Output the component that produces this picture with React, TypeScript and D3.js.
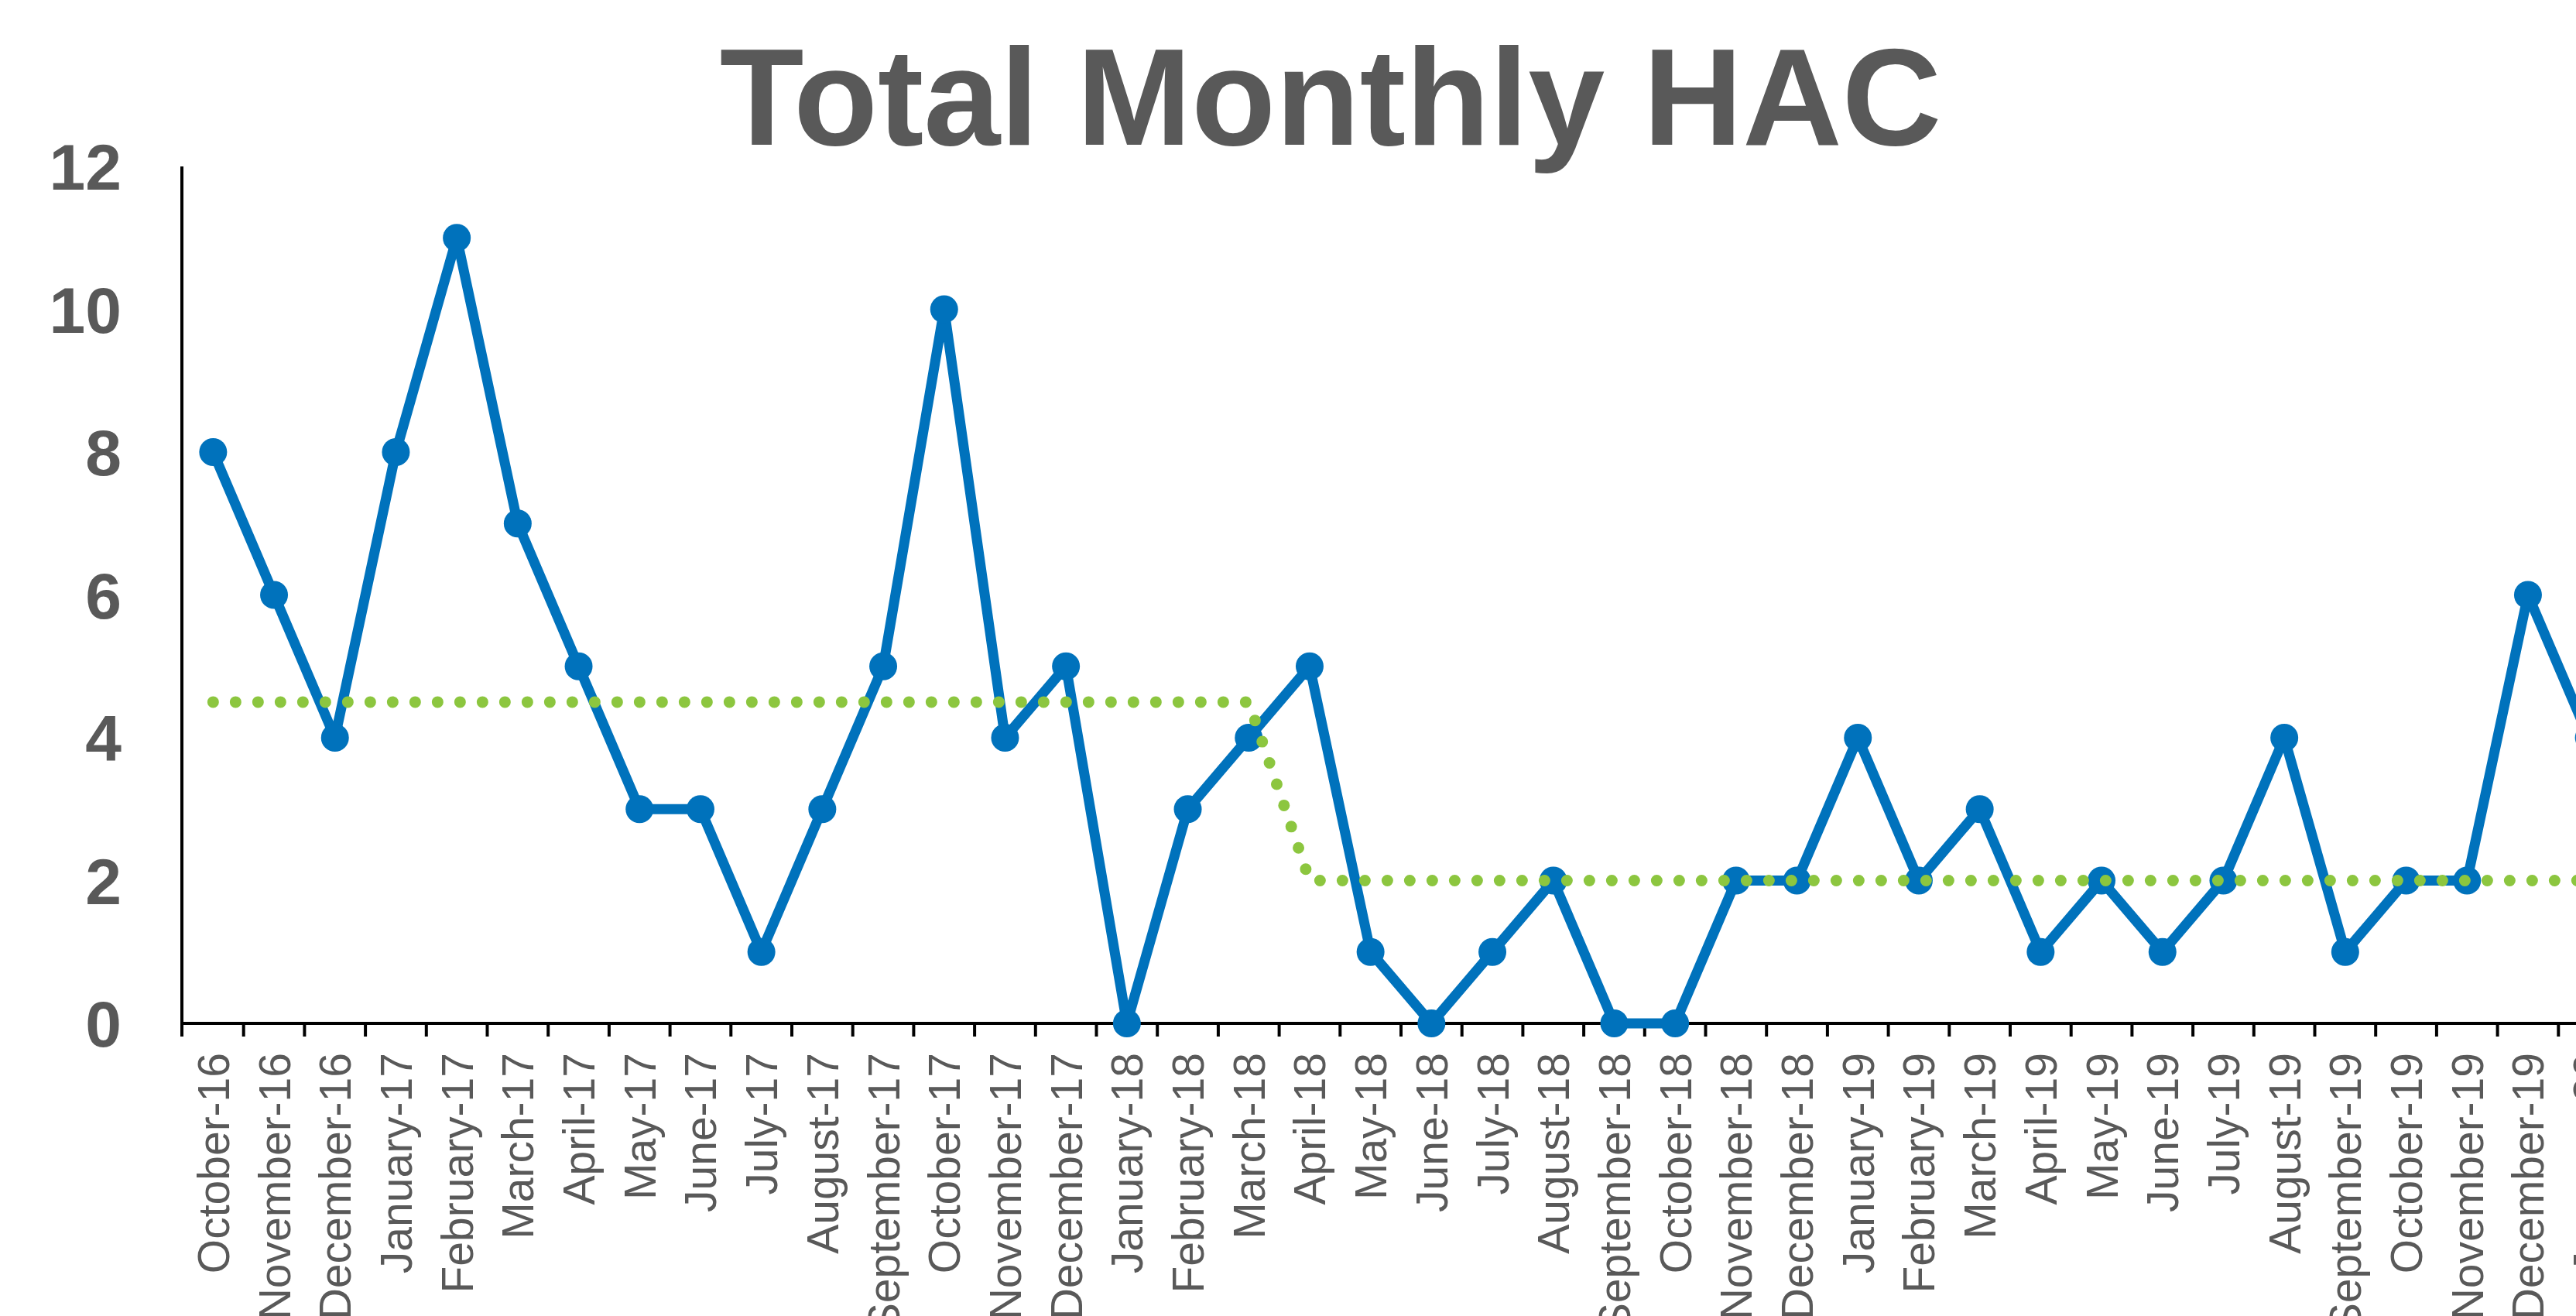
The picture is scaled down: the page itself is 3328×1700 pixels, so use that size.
import React, { useEffect, useRef } from 'react';
import * as d3 from 'd3';

const months = [
  'October-16', 'November-16', 'December-16', 'January-17', 'February-17', 'March-17',
  'April-17', 'May-17', 'June-17', 'July-17', 'August-17', 'September-17',
  'October-17', 'November-17', 'December-17', 'January-18', 'February-18', 'March-18',
  'April-18', 'May-18', 'June-18', 'July-18', 'August-18', 'September-18',
  'October-18', 'November-18', 'December-18', 'January-19', 'February-19', 'March-19',
  'April-19', 'May-19', 'June-19', 'July-19', 'August-19', 'September-19',
  'October-19', 'November-19', 'December-19', 'January-20',
];

const hacCounts = [
  8, 6, 4, 8, 11, 7,
  5, 3, 3, 1, 3, 5,
  10, 4, 5, 0, 3, 4,
  5, 1, 0, 1, 2, 0,
  0, 2, 2, 4, 2, 3,
  1, 2, 1, 2, 4, 1,
  2, 2, 6, 4,
];

// median line: 4.5 up to March-18, then 2
const medianValues = [
  4.5, 4.5, 4.5, 4.5, 4.5, 4.5,
  4.5, 4.5, 4.5, 4.5, 4.5, 4.5,
  4.5, 4.5, 4.5, 4.5, 4.5, 4.5,
  2, 2, 2, 2, 2, 2,
  2, 2, 2, 2, 2, 2,
  2, 2, 2, 2, 2, 2,
  2, 2, 2, 2,
];

const yTicks = [0, 2, 4, 6, 8, 10, 12];

export default function App() {
  const svgRef = useRef<SVGSVGElement>(null);

  const width = 3328;
  const height = 1700;
  const axisX = 235;
  const step = 78.7;
  const textColor = '#595959';
  const blue = '#0072BC';
  const green = '#8CC63F';

  useEffect(() => {
    if (!svgRef.current) return;
    const svg = d3.select(svgRef.current);
    svg.selectAll('*').remove();

    const x = d3.scaleBand<string>()
      .domain(months)
      .range([axisX + 1, axisX + 1 + months.length * step])
      .padding(0);

    const y = d3.scaleLinear()
      .domain([0, 12])
      .range([1322, 215]);

    const cx = (i: number) => (x(months[i]) as number) + x.bandwidth() / 2;

    // Title
    svg.append('text')
      .attr('x', 1719)
      .attr('y', 187)
      .attr('text-anchor', 'middle')
      .attr('font-family', '"Liberation Sans", Arial, sans-serif')
      .attr('font-weight', 'bold')
      .attr('font-size', 178)
      .attr('fill', textColor)
      .text('Total Monthly HAC');

    // Y tick labels (no tick marks)
    svg.append('g')
      .selectAll('text')
      .data(yTicks)
      .enter()
      .append('text')
      .attr('x', 157)
      .attr('y', d => y(d))
      .attr('dy', '0.36em')
      .attr('text-anchor', 'end')
      .attr('font-family', '"Liberation Sans", Arial, sans-serif')
      .attr('font-weight', 'bold')
      .attr('font-size', 84)
      .attr('fill', textColor)
      .text(d => d);

    // X tick labels, rotated
    svg.append('g')
      .selectAll('text')
      .data(months)
      .enter()
      .append('text')
      .attr('transform', (d, i) => `translate(${cx(i)}, 1360) rotate(-90)`)
      .attr('dy', '0.36em')
      .attr('text-anchor', 'end')
      .attr('font-family', '"Liberation Sans", Arial, sans-serif')
      .attr('font-size', 57)
      .attr('fill', textColor)
      .text(d => d);

    // Axes
    svg.append('line')
      .attr('x1', axisX).attr('x2', axisX)
      .attr('y1', y(12)).attr('y2', y(0) + 17)
      .attr('stroke', '#000').attr('stroke-width', 4);

    svg.append('line')
      .attr('x1', axisX).attr('x2', width)
      .attr('y1', y(0)).attr('y2', y(0))
      .attr('stroke', '#000').attr('stroke-width', 4);

    svg.append('g')
      .selectAll('line')
      .data(months)
      .enter()
      .append('line')
      .attr('x1', d => (x(d) as number) + x.bandwidth())
      .attr('x2', d => (x(d) as number) + x.bandwidth())
      .attr('y1', y(0))
      .attr('y2', y(0) + 17)
      .attr('stroke', '#000')
      .attr('stroke-width', 4);

    // HAC series
    const line = d3.line<number>()
      .x((d, i) => cx(i))
      .y(d => y(d));

    svg.append('path')
      .datum(hacCounts)
      .attr('d', line)
      .attr('fill', 'none')
      .attr('stroke', blue)
      .attr('stroke-width', 13)
      .attr('stroke-linejoin', 'round');

    svg.append('g')
      .selectAll('circle')
      .data(hacCounts)
      .enter()
      .append('circle')
      .attr('cx', (d, i) => cx(i))
      .attr('cy', d => y(d))
      .attr('r', 18)
      .attr('fill', blue);

    // Median (dotted)
    svg.append('path')
      .datum(medianValues)
      .attr('d', line)
      .attr('fill', 'none')
      .attr('stroke', green)
      .attr('stroke-width', 15)
      .attr('stroke-linecap', 'round')
      .attr('stroke-dasharray', '0 29');
  }, []);

  return (
    <div style={{ position: 'absolute', left: 0, top: 0, background: '#fff' }}>
      <svg
        ref={svgRef}
        width={width}
        height={height}
        viewBox={`0 0 ${width} ${height}`}
        style={{ display: 'block' }}
      />
    </div>
  );
}
